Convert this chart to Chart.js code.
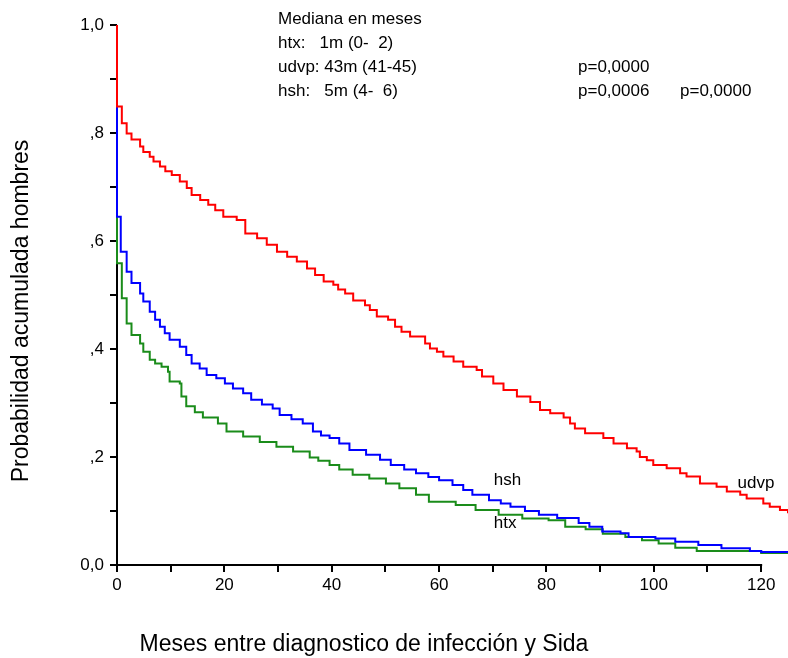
<!DOCTYPE html>
<html>
<head>
<meta charset="utf-8">
<script src="https://cdn.jsdelivr.net/npm/chart.js@4"></script>
<style>
  html, body { margin: 0; padding: 0; background: #fff; }
</style>
</head>
<body>
<canvas id="kmChart" width="788" height="658"></canvas>
<script>
// Kaplan-Meier style curves (months, cumulative probability)
const udvpMonths = [0, 0, 0.9, 1.8, 2.7, 4.3, 4.9, 6.1, 6.8, 8, 9, 10.2, 11.7, 13, 13.9, 15.5, 17, 18.3, 19.8, 22.3, 23.9, 26.1, 27.9, 29.8, 31.7, 33.5, 35.4, 36.9, 38.5, 40.3, 41.2, 42.5, 44, 46.2, 47.1, 48.4, 50.5, 51.8, 53, 54.6, 57.4, 58.3, 59.6, 60.8, 62.7, 64.5, 67, 68, 70.1, 72, 74.5, 77, 78.8, 80.7, 83.2, 84.4, 85.3, 87.2, 90.6, 92.5, 95, 96.8, 97.4, 98.7, 99.9, 102.4, 104.9, 106.1, 108.6, 111.7, 113.6, 116.1, 117.3, 120.4, 121.6, 123.5, 125];
const udvpProb = [1.0, 0.849, 0.818, 0.799, 0.788, 0.775, 0.765, 0.756, 0.747, 0.738, 0.729, 0.722, 0.71, 0.698, 0.685, 0.676, 0.667, 0.657, 0.645, 0.639, 0.614, 0.605, 0.593, 0.58, 0.571, 0.562, 0.549, 0.537, 0.525, 0.519, 0.51, 0.503, 0.49, 0.481, 0.472, 0.46, 0.454, 0.441, 0.432, 0.423, 0.41, 0.401, 0.395, 0.386, 0.377, 0.367, 0.361, 0.349, 0.336, 0.324, 0.312, 0.302, 0.287, 0.281, 0.273, 0.262, 0.253, 0.244, 0.235, 0.225, 0.216, 0.21, 0.2, 0.194, 0.185, 0.179, 0.17, 0.164, 0.151, 0.145, 0.136, 0.13, 0.123, 0.114, 0.108, 0.102, 0.096];

const hshMonths = [0, 0, 0.7, 1.8, 2.7, 4.3, 4.9, 6.1, 7.1, 8, 8.9, 9.8, 11.7, 12.9, 13.9, 15.4, 16.7, 18.5, 20.1, 21.6, 23.5, 25, 27, 29, 30.3, 32.5, 34.6, 36.5, 38, 39.6, 41.4, 43.3, 46.4, 49, 51, 53.5, 55.7, 58, 60, 62.5, 64.5, 66.2, 69.3, 71.5, 73.3, 76, 78.6, 82, 86, 88, 90.4, 93.8, 95.3, 100.3, 104, 108.3, 112.6, 117.9, 120, 125];
const hshProb = [1.0, 0.645, 0.58, 0.543, 0.522, 0.503, 0.488, 0.469, 0.454, 0.441, 0.429, 0.417, 0.404, 0.389, 0.373, 0.364, 0.352, 0.346, 0.336, 0.327, 0.318, 0.306, 0.297, 0.29, 0.278, 0.27, 0.262, 0.247, 0.24, 0.235, 0.225, 0.213, 0.204, 0.195, 0.185, 0.177, 0.17, 0.163, 0.157, 0.148, 0.139, 0.13, 0.12, 0.114, 0.108, 0.1, 0.093, 0.087, 0.078, 0.071, 0.062, 0.059, 0.052, 0.049, 0.043, 0.037, 0.031, 0.026, 0.024, 0.023];

const htxMonths = [0, 0, 0.9, 1.8, 2.7, 4.3, 4.9, 6.1, 7.1, 8.3, 9.5, 9.8, 11.7, 12, 12.9, 14.5, 16, 18.8, 20.4, 23.5, 26.6, 29.7, 32.8, 35.9, 37.5, 39.6, 41.4, 43.9, 47, 50.1, 52.6, 55.7, 58.1, 63.1, 66.8, 71.1, 75.5, 80.4, 83.5, 87.3, 90.5, 94.7, 97.8, 100.9, 104, 108, 120, 125];
const htxProb = [1.0, 0.559, 0.494, 0.447, 0.426, 0.41, 0.395, 0.38, 0.373, 0.367, 0.358, 0.34, 0.336, 0.312, 0.294, 0.283, 0.273, 0.262, 0.247, 0.238, 0.228, 0.219, 0.21, 0.199, 0.193, 0.185, 0.177, 0.167, 0.16, 0.151, 0.142, 0.13, 0.117, 0.111, 0.102, 0.093, 0.086, 0.083, 0.071, 0.066, 0.058, 0.052, 0.046, 0.04, 0.032, 0.026, 0.022, 0.022];

// Axis labels
const yTickLabels = ['0,0', '', ',2', '', ',4', '', ',6', '', ',8', '', '1,0'];
const xTitle = 'Meses entre diagnostico de infección y Sida';
const yTitle = 'Probabilidad acumulada hombres';

// Median box text: [left part, p column 1, p column 2]
const medianLines = [
    ['Mediana en meses'],
    ['htx:   1m (0-  2)'],
    ['udvp: 43m (41-45)', 'p=0,0000'],
    ['hsh:   5m (4-  6)', 'p=0,0006', 'p=0,0000']
];

// Curve labels (at data coordinates)
const curveLabels = [
    { text: 'hsh', x: 70.2, y: 0.156 },
    { text: 'htx', x: 70.2, y: 0.078 },
    { text: 'udvp', x: 115.6, y: 0.152 }
];

const FONT = '"Liberation Sans", Arial, sans-serif';

const toPoints = (xs, ys) => xs.map((x, i) => ({ x: x, y: ys[i] }));

// Axis lines drawn under the curves; x axis stops at 120 like the original plot
const axisLines = {
    id: 'axisLines',
    beforeDatasetsDraw(chart) {
        const { ctx, scales: { x, y } } = chart;
        ctx.save();
        ctx.strokeStyle = '#000';
        ctx.lineWidth = 2;
        ctx.beginPath();
        ctx.moveTo(x.getPixelForValue(0) - 1, y.getPixelForValue(0));
        ctx.lineTo(x.getPixelForValue(120) + 1, y.getPixelForValue(0));
        ctx.moveTo(x.getPixelForValue(0), y.getPixelForValue(0));
        ctx.lineTo(x.getPixelForValue(0), y.getPixelForValue(1));
        ctx.stroke();
        ctx.restore();
    }
};

// Titles and text annotations
const textLayer = {
    id: 'textLayer',
    afterDraw(chart) {
        const { ctx, scales: { x, y } } = chart;
        ctx.save();
        ctx.fillStyle = '#000';

        ctx.font = '23px ' + FONT;
        ctx.textAlign = 'center';
        ctx.textBaseline = 'middle';
        ctx.fillText(xTitle, 364, 645);
        ctx.translate(22, 311);
        ctx.rotate(-Math.PI / 2);
        ctx.fillText(yTitle, 0, 0);
        ctx.setTransform(1, 0, 0, 1, 0, 0);

        ctx.font = '17px ' + FONT;
        ctx.textAlign = 'left';
        ctx.textBaseline = 'alphabetic';
        const cols = [278, 578, 680];
        medianLines.forEach((line, i) => {
            const base = 24 + i * 24;
            line.forEach((part, j) => ctx.fillText(part, cols[j], base));
        });

        ctx.textBaseline = 'middle';
        curveLabels.forEach(l => {
            ctx.fillText(l.text, x.getPixelForValue(l.x), y.getPixelForValue(l.y));
        });
        ctx.restore();
    }
};

const ctx = document.getElementById('kmChart').getContext('2d');
const kmChart = new Chart(ctx, {
    type: 'line',
    data: {
        datasets: [
            {
                label: 'udvp',
                data: toPoints(udvpMonths, udvpProb),
                borderColor: '#ff0000',
                borderWidth: 2,
                stepped: 'before',
                pointRadius: 0,
                fill: false,
                clip: 4
            },
            {
                label: 'hsh',
                data: toPoints(hshMonths, hshProb),
                borderColor: '#0000ff',
                borderWidth: 2,
                stepped: 'before',
                pointRadius: 0,
                fill: false,
                clip: 4
            },
            {
                label: 'htx',
                data: toPoints(htxMonths, htxProb),
                borderColor: '#1a8c1a',
                borderWidth: 2,
                stepped: 'before',
                pointRadius: 0,
                fill: false,
                clip: 4
            }
        ]
    },
    options: {
        responsive: false,
        animation: false,
        layout: { padding: { top: 25, left: 0, right: 0, bottom: 0 } },
        plugins: {
            legend: { display: false },
            tooltip: { enabled: false }
        },
        scales: {
            x: {
                type: 'linear',
                min: 0,
                max: 125,
                afterFit: (scale) => { scale.height = 93; },
                border: { display: false },
                grid: { drawOnChartArea: false, drawTicks: true, tickLength: 7, color: '#000', lineWidth: 2 },
                ticks: {
                    stepSize: 10,
                    includeBounds: false,
                    maxRotation: 0,
                    autoSkip: false,
                    padding: 3,
                    color: '#000',
                    font: { family: FONT, size: 17 },
                    callback: (v) => (v % 20 === 0 ? String(v) : '')
                }
            },
            y: {
                type: 'linear',
                min: 0,
                max: 1,
                afterFit: (scale) => { scale.width = 117; },
                border: { display: false },
                grid: { drawOnChartArea: false, drawTicks: true, tickLength: 7, color: '#000', lineWidth: 2 },
                ticks: {
                    stepSize: 0.1,
                    autoSkip: false,
                    padding: 6,
                    color: '#000',
                    font: { family: FONT, size: 17 },
                    callback: (v, i) => yTickLabels[i]
                }
            }
        }
    },
    plugins: [axisLines, textLayer]
});
</script>
</body>
</html>
